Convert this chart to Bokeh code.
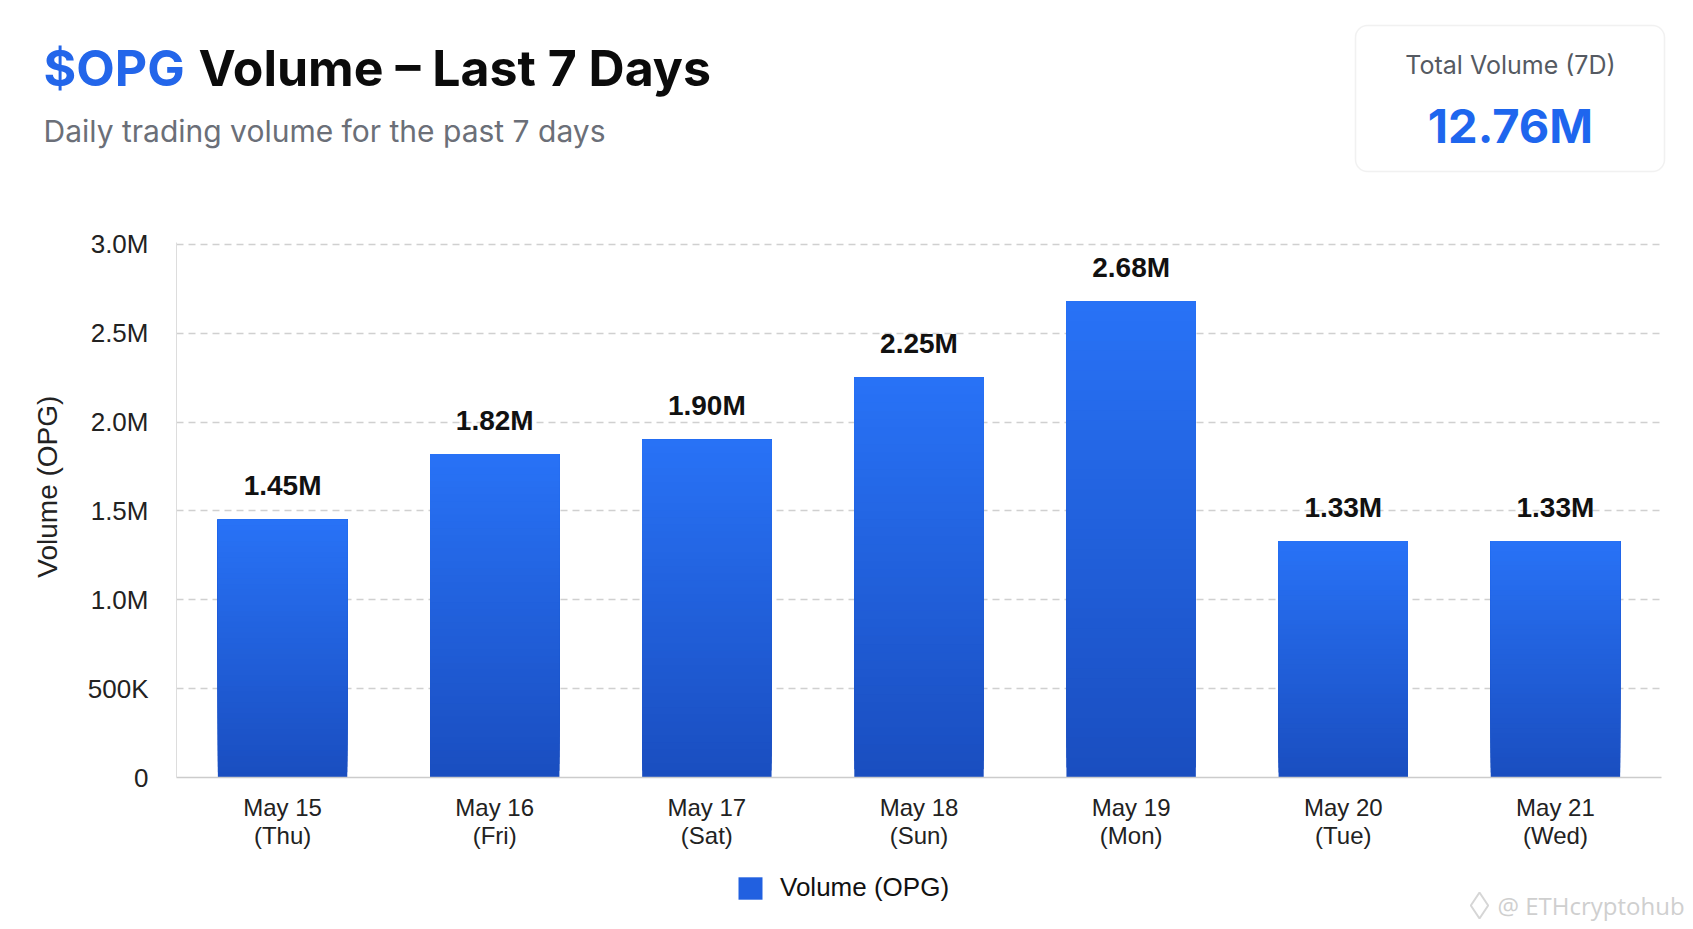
from bokeh.plotting import figure
from bokeh.models import (ColumnDataSource, Label, BoxAnnotation, FixedTicker,
                          Legend, LegendItem, Range1d)
from bokeh.layouts import column
from bokeh.core.properties import value
from bokeh.embed import file_html
from bokeh.resources import INLINE

# ---------------- data ----------------
dates = ["May 15", "May 16", "May 17", "May 18", "May 19", "May 20", "May 21"]
weekdays = ["Thu", "Fri", "Sat", "Sun", "Mon", "Tue", "Wed"]
volumes = [1.45e6, 1.82e6, 1.90e6, 2.25e6, 2.68e6, 1.33e6, 1.33e6]
value_labels = ["1.45M", "1.82M", "1.90M", "2.25M", "2.68M", "1.33M", "1.33M"]
ytick_values = [0, 500000, 1000000, 1500000, 2000000, 2500000, 3000000]
ytick_labels = ["0", "500K", "1.0M", "1.5M", "2.0M", "2.5M", "3.0M"]
total_label = f"{sum(volumes) / 1e6:.2f}M"

categories = [f"{d}\n({w})" for d, w in zip(dates, weekdays)]

# ---------------- styling ----------------
W = 1688
H_HEAD, H_MAIN, H_FOOT = 200, 670, 54
BLUE_TOP = (40, 114, 246)
BLUE_BOT = (26, 78, 192)
SANS = "Liberation Sans"
UI = "Inter"


def blank(h):
    f = figure(width=W, height=h, x_range=Range1d(0, W), y_range=Range1d(h, 0),
               x_axis_location=None, y_axis_location=None,
               output_backend="svg", toolbar_location=None, min_border=0,
               frame_align=False)
    f.outline_line_color = None
    f.grid.grid_line_color = None
    f.background_fill_color = "white"
    f.border_fill_color = "white"
    return f


# ---------------- header ----------------
head = blank(H_HEAD)
head.add_layout(Label(x=43, y=67, text="$OPG", text_font=UI,
                      text_font_style="bold", text_font_size="50px",
                      text_color="#2366ea", text_baseline="middle"))
head.add_layout(Label(x=198, y=67, text="Volume \u2013 Last 7 Days",
                      text_font=UI, text_font_style="bold",
                      text_font_size="50px", text_color="#0b0b0b",
                      text_baseline="middle"))
head.add_layout(Label(x=43, y=130, text="Daily trading volume for the past 7 days",
                      text_font=UI, text_font_size="30px", text_color="#6b6f78",
                      text_baseline="middle"))
head.add_layout(BoxAnnotation(left=1355, right=1664, top=25, bottom=171,
                              fill_color="white", fill_alpha=1,
                              line_color="#cfcfcf", line_width=1.5,
                              border_radius=12))
head.add_layout(Label(x=1510, y=64, text="Total Volume (7D)", text_font=UI,
                      text_font_size="25px", text_color="#555a62",
                      text_align="center", text_baseline="middle"))
head.add_layout(Label(x=1510, y=125, text=total_label, text_font=UI,
                      text_font_style="bold", text_font_size="47px",
                      text_color="#1e66ee", text_align="center",
                      text_baseline="middle"))

# ---------------- main chart ----------------
p = figure(width=W, height=H_MAIN, x_range=categories,
           y_range=Range1d(0, 3.01e6),
           output_backend="svg", toolbar_location=None,
           min_border_left=176, min_border_right=W - 1661,
           min_border_top=42, min_border_bottom=93, frame_align=False)
p.outline_line_color = None
p.background_fill_color = "white"
p.border_fill_color = "white"

# gradient bars: overlapping layers from bottom colour (full bar) to top colour
N = 48
xs, bots, tops, cols = [], [], [], []
for c, v in zip(categories, volumes):
    for i in range(N):
        f = i / (N - 1)
        r = round(BLUE_BOT[0] + (BLUE_TOP[0] - BLUE_BOT[0]) * f)
        g = round(BLUE_BOT[1] + (BLUE_TOP[1] - BLUE_BOT[1]) * f)
        b = round(BLUE_BOT[2] + (BLUE_TOP[2] - BLUE_BOT[2]) * f)
        xs.append(c)
        bots.append(v * i / N)
        tops.append(v)
        cols.append(f"#{r:02x}{g:02x}{b:02x}")
src = ColumnDataSource(dict(x=xs, bottom=bots, top=tops, color=cols))
p.vbar(x="x", bottom="bottom", top="top", width=0.61, source=src,
       fill_color="color", line_color=None)

# value labels
lab_src = ColumnDataSource(dict(x=categories, y=volumes, t=value_labels))
p.text(x="x", y="y", text="t", source=lab_src, text_align="center",
       text_baseline="alphabetic", y_offset=-34,
       text_font=value(SANS), text_font_style="bold",
       text_font_size="28px", text_color="#111111")

# axes
p.yaxis.ticker = FixedTicker(ticks=ytick_values)
p.yaxis.major_label_overrides = {v: l for v, l in zip(ytick_values, ytick_labels)}
p.yaxis.major_label_text_font = SANS
p.yaxis.major_label_text_font_size = "26px"
p.yaxis.major_label_text_color = "#222222"
p.yaxis.major_label_standoff = 22
p.yaxis.major_tick_line_color = None
p.yaxis.minor_tick_line_color = None
p.yaxis.axis_line_color = "#dddddd"
p.yaxis.axis_label = "\u00a0" * 6 + "Volume (OPG)"
p.yaxis.axis_label_text_font = SANS
p.yaxis.axis_label_text_font_size = "28px"
p.yaxis.axis_label_text_font_style = "normal"
p.yaxis.axis_label_text_color = "#222222"
p.yaxis.axis_label_standoff = 22

p.xaxis.major_label_text_font = SANS
p.xaxis.major_label_text_font_size = "24px"
p.xaxis.major_label_text_line_height = 1.05
p.xaxis.major_label_text_color = "#222222"
p.xaxis.major_label_standoff = 10
p.xaxis.major_tick_line_color = None
p.xaxis.axis_line_color = "#cccccc"
p.xaxis.axis_line_width = 1.5

p.xgrid.grid_line_color = None
p.ygrid.grid_line_color = "#d0d0d0"
p.ygrid.grid_line_dash = "7 5"
p.ygrid.grid_line_width = 1.3

# ---------------- footer: legend + watermark ----------------
foot = blank(H_FOOT)
# zero-size renderer that only provides the legend swatch style
leg_r = foot.vbar(x=[0], bottom=[0], top=[0], width=0, fill_color="#2160e0",
                  line_color=None, border_radius=4)
legend = Legend(items=[LegendItem(label="Volume (OPG)", renderers=[leg_r])],
                location=(735, 21), padding=0, margin=0,
                glyph_width=30, glyph_height=28, label_height=28,
                label_standoff=15, label_text_font=SANS,
                label_text_font_size="26px", label_text_color="#111111",
                border_line_color=None, background_fill_alpha=0)
foot.add_layout(legend)
foot.scatter(x=[1479], y=[35], marker="diamond", size=26, fill_color=None,
             line_color="#d6d6d6", line_width=2)
foot.add_layout(Label(x=1497, y=35, text="@ ETHcryptohub", text_font="Open Sans",
                      text_font_size="24px", text_color="#cfcfcf",
                      text_baseline="middle"))

layout = column(head, p, foot, spacing=0)
open("out.html", "w").write(file_html(layout, INLINE))
